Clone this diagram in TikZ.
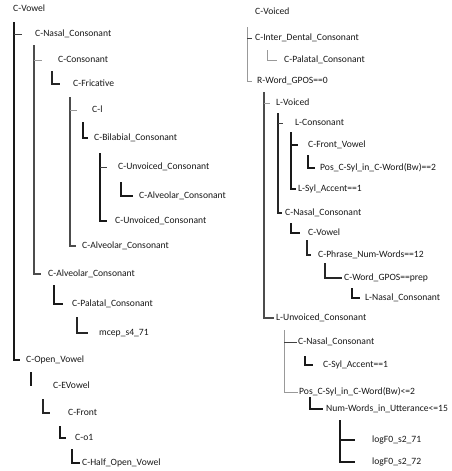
\documentclass[tikz,border=0pt]{standalone}
\usepackage{fontspec}
\setmainfont{Carlito}
\begin{document}
\begin{tikzpicture}[x=1pt,y=-1pt,
  lbl/.style={anchor=west,inner sep=0pt,text height=1.45ex,text depth=0.35ex,font=\fontsize{9.6}{11}\selectfont,text=black!90},
  thk/.style={line width=1.6pt,black!90},
  med/.style={line width=1.1pt,black!85},
  dkg/.style={line width=1.3pt,black!70},
  thn/.style={line width=0.6pt,black!75},
  lgt/.style={line width=0.6pt,black!40}]
\useasboundingbox[fill=white] (0,0) rectangle (451,471);
% ---------- left tree nodes ----------
\node[lbl] (cvowel) at (13,9) {C-Vowel};
\node[lbl] (nasal) at (35,34) {C-Nasal\_Consonant};
\node[lbl] (cons) at (58,60) {C-Consonant};
\node[lbl] (fric) at (73,84) {C-Fricative};
\node[lbl] (cl) at (92,110) {C-l};
\node[lbl] (bilab) at (94,138) {C-Bilabial\_Consonant};
\node[lbl] (unv1) at (118,167) {C-Unvoiced\_Consonant};
\node[lbl] (alv1) at (139,196) {C-Alveolar\_Consonant};
\node[lbl] (unv2) at (115,221) {C-Unvoiced\_Consonant};
\node[lbl] (alv2) at (82,246) {C-Alveolar\_Consonant};
\node[lbl] (alv3) at (48,274) {C-Alveolar\_Consonant};
\node[lbl] (pal1) at (72,304) {C-Palatal\_Consonant};
\node[lbl] (mcep) at (99,333) {mcep\_s4\_71};
\node[lbl] (openv) at (26,360) {C-Open\_Vowel};
\node[lbl] (evow) at (53,386) {C-EVowel};
\node[lbl] (front) at (68,413) {C-Front};
\node[lbl] (o1) at (75,438) {C-o1};
\node[lbl] (half) at (82,463) {C-Half\_Open\_Vowel};
% ---------- left tree connectors ----------
\coordinate (t1) at (14,22);
\coordinate (t2) at (34,45);
\coordinate (t3) at (52,71);
\coordinate (t4) at (70,97);
\coordinate (t5) at (83,122);
\coordinate (t6) at (100,153);
\coordinate (t7) at (121,182);
\coordinate (t8) at (54,285);
\coordinate (t9) at (77,317);
\coordinate (t10) at (31,372);
\coordinate (t11) at (43,399);
\coordinate (t12) at (60,426);
\coordinate (t13) at (72,449);
\draw[thk] (t1) |- ([xshift=-6pt]openv.west);
\draw[thn] (t1 |- nasal.west) -- ([xshift=-13pt]nasal.west);
\draw[dkg] (t2) |- ([xshift=-7pt]alv3.west);
\draw[lgt] (t2 |- cons.west) -- ([xshift=-16pt]cons.west);
\draw[med] (t3) |- ([xshift=-13pt]fric.west);
\draw[dkg] (t4) |- ([xshift=-6pt]alv2.west);
\draw[lgt] (t4 |- cl.west) -- ([xshift=-15pt]cl.west);
\draw[thk] (t5) |- ([xshift=-6pt]bilab.west);
\draw[thk] (t6) |- ([xshift=-8pt]unv2.west);
\draw[thn] (t6 |- unv1.west) -- ([xshift=-11pt]unv1.west);
\draw[thk] (t7) |- ([xshift=-6pt]alv1.west);
\draw[thk] (t8) |- ([xshift=-9pt]pal1.west);
\draw[med] (t9) |- ([xshift=-11pt]mcep.west);
\draw[thk] (t10) -- (t10 |- evow.west);
\draw[med] (t11) |- ([xshift=-18pt]front.west);
\draw[thk] (t12) |- ([xshift=-9pt]o1.west);
\draw[thk] (t13) |- ([xshift=-2pt]half.west);
% ---------- right tree nodes ----------
\node[lbl] (cvoiced) at (255,12) {C-Voiced};
\node[lbl] (inter) at (255,38) {C-Inter\_Dental\_Consonant};
\node[lbl] (pal2) at (284,60) {C-Palatal\_Consonant};
\node[lbl] (rword) at (257,81) {R-Word\_GPOS==0};
\node[lbl] (lvoiced) at (276,103) {L-Voiced};
\node[lbl] (lcons) at (295,123) {L-Consonant};
\node[lbl] (frontv) at (308,145) {C-Front\_Vowel};
\node[lbl] (pos1) at (320,168) {Pos\_C-Syl\_in\_C-Word(Bw)==2};
\node[lbl] (lsyl) at (298,189) {L-Syl\_Accent==1};
\node[lbl] (nasal2) at (285,213) {C-Nasal\_Consonant};
\node[lbl] (cvowel2) at (308,233) {C-Vowel};
\node[lbl] (phrase) at (318,255) {C-Phrase\_Num-Words==12};
\node[lbl] (wordgpos) at (344,278) {C-Word\_GPOS==prep};
\node[lbl] (lnasal) at (365,298) {L-Nasal\_Consonant};
\node[lbl] (lunv) at (276,318) {L-Unvoiced\_Consonant};
\node[lbl] (nasal3) at (298,342) {C-Nasal\_Consonant};
\node[lbl] (sylacc) at (323,365) {C-Syl\_Accent==1};
\node[lbl] (pos2) at (299,392) {Pos\_C-Syl\_in\_C-Word(Bw)<=2};
\node[lbl] (numw) at (326,409) {Num-Words\_in\_Utterance<=15};
\node[lbl] (log1) at (372,440) {logF0\_s2\_71};
\node[lbl] (log2) at (372,462) {logF0\_s2\_72};
% ---------- right tree connectors ----------
\coordinate (r1) at (247,27);
\coordinate (r2) at (267,50);
\coordinate (r3) at (264,92);
\coordinate (r4) at (278,113);
\coordinate (r5) at (291,132);
\coordinate (r6) at (308,155);
\coordinate (r7) at (291,223);
\coordinate (r8) at (307,240);
\coordinate (r9) at (325,263);
\coordinate (r10) at (352,288);
\coordinate (r11) at (284,330);
\coordinate (r12) at (305,356);
\coordinate (r13) at (310,397);
\coordinate (r14) at (340,420);
\draw[lgt] (r1) |- ([xshift=-5pt]rword.west);
\draw[thn] (r1 |- inter.west) -- ([xshift=-3pt]inter.west);
\draw[lgt] (r2) |- ([xshift=-7pt]pal2.west);
\draw[dkg] (r3) |- ([xshift=-2pt]lunv.west);
\draw[lgt] (r3 |- lvoiced.west) -- ([xshift=-6pt]lvoiced.west);
\draw[med] (r4) |- ([xshift=-3pt]nasal2.west);
\draw[thn] (r4 |- lcons.west) -- ([xshift=-12pt]lcons.west);
\draw[thk] (r5) |- ([xshift=-2pt]lsyl.west);
\draw[thk] (r5 |- frontv.west) -- ([xshift=-10pt]frontv.west);
\draw[thk] (r6) |- ([xshift=-5pt]pos1.west);
\draw[thk] (r7) |- ([xshift=-8pt]cvowel2.west);
\draw[med] (r8) |- ([xshift=-7pt]phrase.west);
\draw[med] (r9) |- ([xshift=-2pt]wordgpos.west);
\draw[thk] (r10) |- ([xshift=-5pt]lnasal.west);
\draw[lgt] (r11) |- ([xshift=-1pt]pos2.west);
\draw[thn] (r11 |- nasal3.west) -- ([xshift=-1pt]nasal3.west);
\draw[thk] (r12) |- ([xshift=-10pt]sylacc.west);
\draw[thk] (r13) |- ([xshift=-3pt]numw.west);
\draw[thk] (r14) |- ([xshift=-17pt]log2.west);
\draw[thk] (r14 |- log1.west) -- ([xshift=-17pt]log1.west);
\end{tikzpicture}
\end{document}
